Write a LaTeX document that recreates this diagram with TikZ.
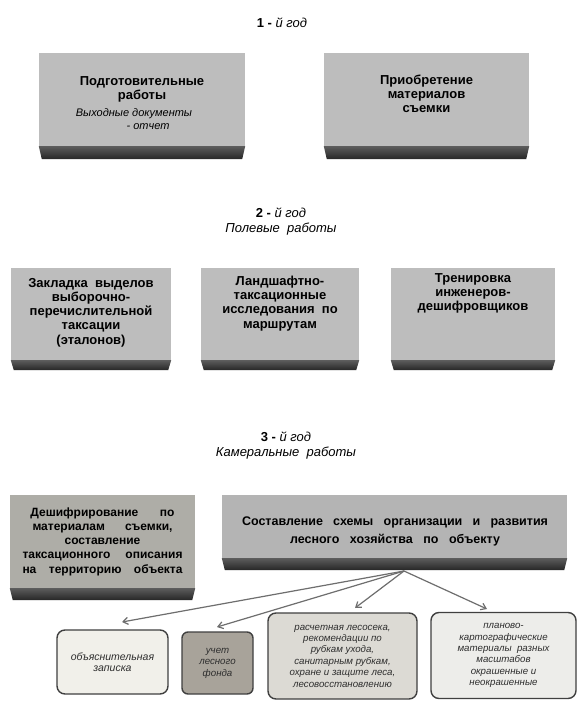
\documentclass[tikz,border=0pt]{standalone}
\usepackage{fontspec}
\setmainfont{Liberation Sans}
\usetikzlibrary{arrows.meta,calc}
\definecolor{facegray}{HTML}{BDBDBD}
\definecolor{facegrayd}{HTML}{AEADA7}
\definecolor{bandtop}{HTML}{5C5C5C}
\definecolor{bandbot}{HTML}{262626}
\definecolor{txtgray}{HTML}{2E2E2E}
\definecolor{linegray}{HTML}{6E6E6E}
\definecolor{fillA}{HTML}{F1F0EA}
\definecolor{fillB}{HTML}{A8A39A}
\definecolor{fillC}{HTML}{DCDAD4}
\definecolor{fillD}{HTML}{EDEDEA}
\newcommand\bandbelow[2]{%
  \shade[top color=bandtop,bottom color=bandbot]
    (#1.south west) -- (#1.south east) -- ([xshift=-3pt,yshift=-#2]#1.south east)
    -- ([xshift=3pt,yshift=-#2]#1.south west) -- cycle;}
\begin{document}
\begin{tikzpicture}[x=1pt,y=-1pt,
  face/.style={fill=facegray,draw=none,inner sep=0pt},
  boxtxt/.style={align=center,inner sep=0pt,font=\bfseries\fontsize{13}{14.2}\selectfont,text=black},
  title/.style={align=center,inner sep=0pt,font=\fontsize{13}{15}\selectfont,text=black},
  leaf/.style={draw=black!75,line width=1.4pt,rounded corners=8pt,inner sep=0pt,
     align=center,font=\itshape\fontsize{9.7}{11.4}\selectfont,text=txtgray},
  conn/.style={draw=linegray,line width=1.2pt,-{Straight Barb[length=5pt,width=7pt]}}]
\useasboundingbox (0,0) rectangle (578,701);
\fill[white] (0,0) rectangle (578,701);

% ---------- year 1
\node[title] (y1) at (282,23) {\textbf{1 -} \textit{й год}};
\node[face,minimum width=206pt,minimum height=93pt] (b1) at (142,99.5) {};
\bandbelow{b1}{13pt}
\node[boxtxt] (b1t) at (142,89.5) {Подготовительные\\работы};
\node[align=center,inner sep=0pt,font=\itshape\fontsize{11}{12.5}\selectfont] (b1s) at (134,119)
  {Выходные документы\\\hspace*{28pt}- отчет};
\node[face,minimum width=205pt,minimum height=93pt] (b2) at (426.5,99.5) {};
\bandbelow{b2}{13pt}
\node[boxtxt] (b2t) at (426.5,93.5) {Приобретение\\материалов\\съемки};

% ---------- year 2
\node[title] (y2) at (281,222) {\textbf{2 -} \textit{й год}\\\textit{Полевые\ \ работы}};
\node[face,minimum width=160pt,minimum height=92pt] (rA) at (91,314) {};
\bandbelow{rA}{10pt}
\node[boxtxt] (rAt) at (91,312.5) {Закладка\ \ выделов\\выборочно-\\перечислительной\\таксации\\(эталонов)};
\node[face,minimum width=158pt,minimum height=92pt] (rB) at (280,314) {};
\bandbelow{rB}{10pt}
\node[boxtxt] (rBt) at (280,303.5) {Ландшафтно-\\таксационные\\исследования\ \ по\\маршрутам};
\node[face,minimum width=164pt,minimum height=92pt] (rC) at (473,314) {};
\bandbelow{rC}{10pt}
\node[boxtxt] (rCt) at (473,293.5) {Тренировка\\инженеров-\\дешифровщиков};

% ---------- year 3
\node[title] (y3) at (286,445.5) {\textbf{3 -} \textit{й год}\\\textit{Камеральные\ \ работы}};
\node[face,fill=facegrayd,minimum width=185pt,minimum height=93pt] (rD) at (102.5,541.5) {};
\bandbelow{rD}{12pt}
\node[boxtxt,font=\bfseries\fontsize{12}{14.2}\selectfont] (rDt) at (102.5,541.5)
  {\makebox[144pt][s]{Дешифрирование\hfill по}\\
   \makebox[140pt][s]{материалам\hfill съемки,}\\
   составление\\
   \makebox[160pt][s]{таксационного\hfill описания}\\
   \makebox[160pt][s]{на\hfill территорию\hfill объекта}};
\node[face,fill=facegray!95!black,minimum width=345pt,minimum height=63pt] (rE) at (394.5,526.5) {};
\bandbelow{rE}{12pt}
\node[boxtxt,font=\bfseries\fontsize{12.5}{18}\selectfont] (rEt) at (395,531)
  {\makebox[306pt][s]{Составление\hfill схемы\hfill организации\hfill и\hfill развития}\\
   \makebox[210pt][s]{лесного\hfill хозяйства\hfill по\hfill объекту}};

% ---------- results
\node[leaf,fill=fillA,minimum width=111pt,minimum height=64pt,font=\itshape\fontsize{10.5}{11.5}\selectfont] (L1) at (112.5,662)
  {объяснительная\\записка};
\node[leaf,fill=fillB,minimum width=71pt,minimum height=62pt,rounded corners=6pt] (L2) at (217.5,663)
  {учет\\лесного\\фонда};
\node[leaf,fill=fillC,minimum width=149pt,minimum height=86pt] (L3) at (342.5,656)
  {расчетная лесосека,\\рекомендации по\\рубкам ухода,\\санитарным рубкам,\\охране и защите леса,\\лесовосстановлению};
\node[leaf,fill=fillD,minimum width=145pt,minimum height=86pt] (L4) at (503.5,655.5)
  {планово-\\картографические\\материалы\ \ разных\\масштабов\\окрашенные и\\неокрашенные};

\coordinate (src) at (404,571);
\coordinate (t1) at (122,622);
\coordinate (t2) at (217,627);
\coordinate (t3) at (355,608);
\coordinate (t4) at (487,609);
\draw[conn] (src) -- (t1);
\draw[conn] (src) -- (t2);
\draw[conn] (src) -- (t3);
\draw[conn] (src) -- (t4);
\end{tikzpicture}
\end{document}
